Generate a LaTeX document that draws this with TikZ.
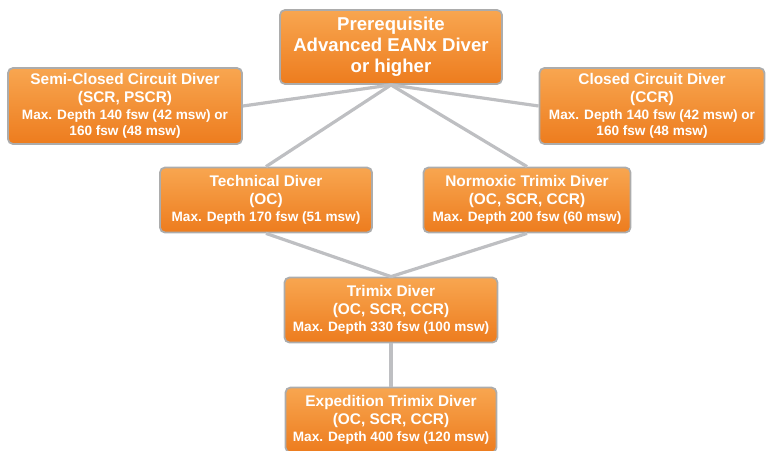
\documentclass[tikz,border=0pt]{standalone}
\usepackage{fontspec}
\setmainfont{Liberation Sans}
\definecolor{boxtop}{RGB}{248,166,80}
\definecolor{boxbot}{RGB}{237,124,30}
\definecolor{boxrim}{RGB}{172,172,172}
\definecolor{linkgray}{RGB}{190,191,194}
\newcommand\bigtxt{\fontsize{18.6}{21}\selectfont}
\newcommand\hdtxt{\fontsize{15.4}{17}\selectfont}
\newcommand\smtxt{\fontsize{13.6}{17}\selectfont}
\begin{document}
\begin{tikzpicture}[x=1pt,y=-1pt,
    course/.style={draw=boxrim,line width=1.8pt,rounded corners=5pt,
      top color=boxtop,bottom color=boxbot,text=white,font=\bfseries\hdtxt,
      align=center,inner sep=0pt},
    link/.style={draw=linkgray,line width=3.2pt}]
  \useasboundingbox (0,0) rectangle (767,450);
  \node[course,font=\bfseries\bigtxt,minimum width=222pt,minimum height=74pt] (prereq) at (391,47)
    {Prerequisite\\Advanced EANx Diver\\or higher};
  \node[course,minimum width=234pt,minimum height=76pt] (scr) at (125,106)
    {Semi-Closed Circuit Diver\\[1pt](SCR, PSCR)\\
     \smtxt Max. Depth 140 fsw (42 msw) or\\[-1pt]\smtxt 160 fsw (48 msw)};
  \node[course,minimum width=225pt,minimum height=76pt] (ccr) at (652,106)
    {Closed Circuit Diver\\[1pt](CCR)\\
     \smtxt Max. Depth 140 fsw (42 msw) or\\[-1pt]\smtxt 160 fsw (48 msw)};
  \node[course,minimum width=212pt,minimum height=65pt] (tech) at (266,200)
    {Technical Diver\\[1pt](OC)\\\smtxt Max. Depth 170 fsw (51 msw)};
  \node[course,minimum width=207pt,minimum height=65pt] (normoxic) at (527,200)
    {Normoxic Trimix Diver\\[1pt](OC, SCR, CCR)\\\smtxt Max. Depth 200 fsw (60 msw)};
  \node[course,minimum width=213pt,minimum height=65pt] (trimix) at (391,310)
    {Trimix Diver\\[1pt](OC, SCR, CCR)\\\smtxt Max. Depth 330 fsw (100 msw)};
  \node[course,minimum width=211pt,minimum height=65pt] (expedition) at (391,420)
    {Expedition Trimix Diver\\[1pt](OC, SCR, CCR)\\\smtxt Max. Depth 400 fsw (120 msw)};
  \begin{scope}[link]
    \draw (prereq.south) -- (scr.east);
    \draw (prereq.south) -- (ccr.west);
    \draw (prereq.south) -- (tech.north);
    \draw (prereq.south) -- (normoxic.north);
    \draw (tech.south) -- (trimix.north);
    \draw (normoxic.south) -- (trimix.north);
    \draw (trimix.south) -- (expedition.north);
  \end{scope}
\end{tikzpicture}
\end{document}
